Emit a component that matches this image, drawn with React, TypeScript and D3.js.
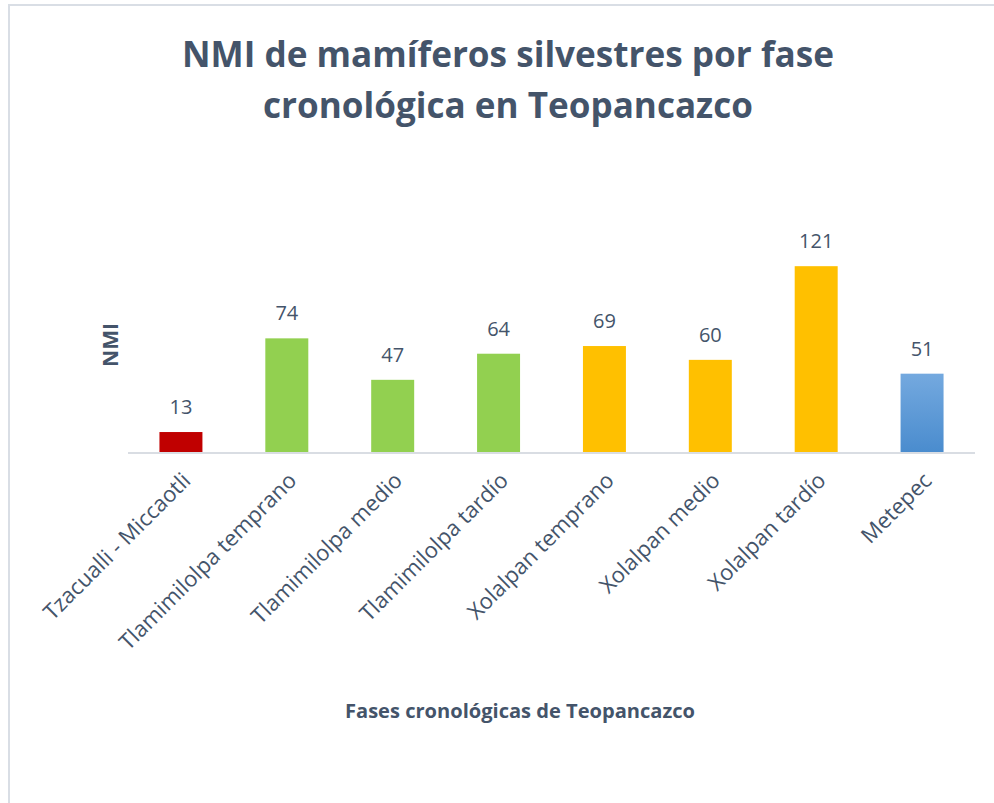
import React, { useEffect, useRef } from 'react';
import * as d3 from 'd3';

const categories = [
  'Tzacualli - Miccaotli',
  'Tlamimilolpa temprano',
  'Tlamimilolpa medio',
  'Tlamimilolpa tardío',
  'Xolalpan temprano',
  'Xolalpan medio',
  'Xolalpan tardío',
  'Metepec',
];
const nmiValues = [13, 74, 47, 64, 69, 60, 121, 51];
const phaseGroups = [
  'Tzacualli',
  'Tlamimilolpa',
  'Tlamimilolpa',
  'Tlamimilolpa',
  'Xolalpan',
  'Xolalpan',
  'Xolalpan',
  'Metepec',
];
const titleLines = ['NMI de mamíferos silvestres por fase', 'cronológica en Teopancazco'];
const xTitle = 'Fases cronológicas de Teopancazco';
const yTitle = 'NMI';

const W = 994;
const H = 803;
const TEXT = '#44546A';
const FONT = "'Open Sans', 'DejaVu Sans', sans-serif";

const App = () => {
  const svgRef = useRef<SVGSVGElement | null>(null);

  useEffect(() => {
    const svg = d3.select(svgRef.current);
    svg.selectAll('*').remove();

    // gradient for the Metepec bar
    const defs = svg.append('defs');
    const grad = defs
      .append('linearGradient')
      .attr('id', 'metepecGrad')
      .attr('x1', 0)
      .attr('y1', 0)
      .attr('x2', 0)
      .attr('y2', 1);
    grad.append('stop').attr('offset', '0%').attr('stop-color', '#74A9DF');
    grad.append('stop').attr('offset', '100%').attr('stop-color', '#4A8CCE');

    svg.append('rect').attr('width', W).attr('height', H).attr('fill', '#ffffff');

    // chart frame (only the left and top edges fall inside the picture)
    svg
      .append('rect')
      .attr('x', 9)
      .attr('y', 5)
      .attr('width', 998)
      .attr('height', 1000)
      .attr('fill', 'none')
      .attr('stroke', '#D9DEE5')
      .attr('stroke-width', 2);

    const x = d3
      .scaleBand<string>()
      .domain(categories)
      .range([128, 975])
      .paddingInner(0.594)
      .paddingOuter(0.297);

    const y = d3.scaleLinear().domain([0, 140]).range([452, 237]);

    const color = d3
      .scaleOrdinal<string, string>()
      .domain(['Tzacualli', 'Tlamimilolpa', 'Xolalpan', 'Metepec'])
      .range(['#C00000', '#92D050', '#FFC000', 'url(#metepecGrad)']);

    // title
    const title = svg
      .append('text')
      .attr('text-anchor', 'middle')
      .attr('font-family', FONT)
      .attr('font-weight', 700)
      .attr('font-size', 35)
      .attr('fill', TEXT);
    const titleWidths = [652, 490];
    titleLines.forEach((line, i) => {
      title
        .append('tspan')
        .attr('x', 508)
        .attr('y', 67 + i * 51)
        .attr('textLength', titleWidths[i])
        .attr('lengthAdjust', 'spacingAndGlyphs')
        .text(line);
    });

    // bars
    const rows = categories.map((c, i) => ({ cat: c, value: nmiValues[i], group: phaseGroups[i] }));

    svg
      .selectAll('.bar')
      .data(rows)
      .enter()
      .append('rect')
      .attr('class', 'bar')
      .attr('x', d => x(d.cat) as number)
      .attr('y', d => y(d.value))
      .attr('width', x.bandwidth())
      .attr('height', d => y(0) - y(d.value))
      .attr('fill', d => color(d.group));

    // axis line
    svg
      .append('line')
      .attr('x1', x.range()[0])
      .attr('x2', x.range()[1])
      .attr('y1', y(0) + 1)
      .attr('y2', y(0) + 1)
      .attr('stroke', '#D9DDE3')
      .attr('stroke-width', 2);

    // value labels
    svg
      .selectAll('.val')
      .data(rows)
      .enter()
      .append('text')
      .attr('class', 'val')
      .attr('x', d => (x(d.cat) as number) + x.bandwidth() / 2)
      .attr('y', d => y(d.value) - 18)
      .attr('text-anchor', 'middle')
      .attr('font-family', FONT)
      .attr('font-size', 20)
      .attr('fill', TEXT)
      .text(d => d.value);

    // category labels
    svg
      .selectAll('.cat')
      .data(categories)
      .enter()
      .append('text')
      .attr('class', 'cat')
      .attr('transform', d => `translate(${(x(d) as number) + x.bandwidth() / 2 + 11},482) rotate(-45)`)
      .attr('text-anchor', 'end')
      .attr('font-family', FONT)
      .attr('font-size', 22)
      .attr('fill', TEXT)
      .text(d => d);

    // axis titles
    svg
      .append('text')
      .attr('x', 520)
      .attr('y', 718)
      .attr('text-anchor', 'middle')
      .attr('font-family', FONT)
      .attr('font-weight', 700)
      .attr('font-size', 19)
      .attr('textLength', 350)
      .attr('lengthAdjust', 'spacingAndGlyphs')
      .attr('fill', TEXT)
      .text(xTitle);

    svg
      .append('text')
      .attr('transform', 'translate(110,345) rotate(-90)')
      .attr('text-anchor', 'middle')
      .attr('dominant-baseline', 'central')
      .attr('font-family', FONT)
      .attr('font-weight', 700)
      .attr('font-size', 21)
      .attr('fill', TEXT)
      .text(yTitle);
  }, []);

  return (
    <svg
      ref={svgRef}
      width={W}
      height={H}
      style={{ position: 'absolute', left: 0, top: 0, display: 'block' }}
    ></svg>
  );
};

export default App;
